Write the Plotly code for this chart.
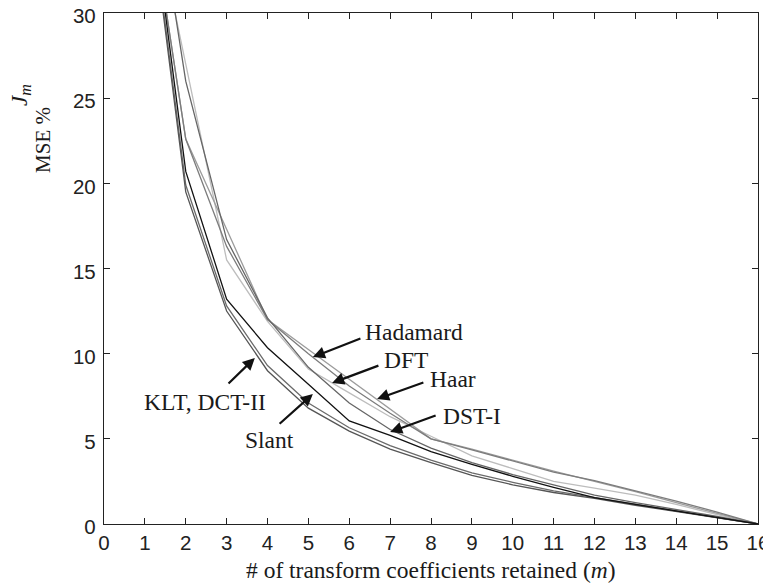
import plotly.graph_objs as go

# number of retained coefficients
m = list(range(1, 17))

# MSE % for each transform
klt = [38.5, 19.5, 12.5, 9.0, 6.8, 5.45, 4.4, 3.6, 2.85, 2.3, 1.85, 1.5, 1.1, 0.72, 0.36, 0.0]
dct2 = [38.7, 19.9, 12.8, 9.3, 7.1, 5.65, 4.6, 3.75, 3.0, 2.45, 1.95, 1.55, 1.15, 0.76, 0.38, 0.0]
slant = [39.3, 20.7, 13.2, 10.35, 8.2, 6.05, 5.2, 4.25, 3.5, 2.8, 2.15, 1.55, 1.15, 0.76, 0.38, 0.0]
dst1 = [41.4, 26.0, 16.7, 12.1, 9.2, 7.1, 5.55, 4.45, 3.6, 2.9, 2.3, 1.7, 1.25, 0.85, 0.45, 0.0]
dft = [38.5, 27.0, 15.5, 11.9, 9.1, 7.7, 6.3, 5.15, 4.0, 3.25, 2.5, 2.1, 1.7, 1.15, 0.55, 0.0]
hadamard = [38.3, 22.6, 16.3, 12.0, 10.0, 8.1, 6.5, 5.0, 4.35, 3.7, 3.05, 2.55, 1.95, 1.35, 0.7, 0.0]
haar = [38.3, 22.6, 17.3, 12.0, 10.25, 8.5, 6.75, 5.0, 4.4, 3.75, 3.1, 2.5, 1.9, 1.25, 0.62, 0.0]

series = [
    ("DFT", dft, "#bdbdbd", 1.3),
    ("Haar", haar, "#9c9c9c", 1.3),
    ("Hadamard", hadamard, "#7c7c7c", 1.3),
    ("DST-I", dst1, "#666666", 1.3),
    ("DCT-II", dct2, "#6a6a6a", 1.3),
    ("KLT", klt, "#555555", 1.3),
    ("Slant", slant, "#111111", 1.3),
]

# label text, text position, arrow tail, arrow tip (data coords)
labels = [
    ("Hadamard", (7.58, 11.27), (6.31, 10.92), (5.11, 9.80)),
    ("DFT", (7.39, 9.63), (6.75, 9.33), (5.58, 8.28)),
    ("Haar", (8.54, 8.51), (7.85, 8.34), (6.68, 7.34)),
    ("DST-I", (9.0, 6.34), (8.15, 6.40), (7.0, 5.40)),
    ("KLT, DCT-II", (2.47, 7.16), (3.01, 8.16), (3.69, 9.75)),
    ("Slant", (4.06, 4.93), (4.26, 5.81), (5.11, 7.63)),
]

serif = "Liberation Serif, Times New Roman, serif"
sans = "Liberation Sans, Arial, sans-serif"

fig = go.Figure()
for name, vals, col, w in series:
    fig.add_trace(go.Scatter(x=m, y=vals, mode="lines", name=name,
                             line=dict(color=col, width=w), showlegend=False))

ann = []
for txt, tpos, tail, tip in labels:
    ann.append(dict(x=tpos[0], y=tpos[1], xref="x", yref="y", text=txt, showarrow=False,
                    xanchor="center", yanchor="middle",
                    font=dict(family=serif, size=23.5, color="#1a1a1a")))
    ann.append(dict(x=tip[0], y=tip[1], ax=tail[0], ay=tail[1], xref="x", yref="y",
                    axref="x", ayref="y", text="", showarrow=True, arrowhead=2,
                    arrowsize=1.1, arrowwidth=2.2, arrowcolor="#111"))

# y axis title (two rotated lines)
ann.append(dict(x=-0.128, y=0.84, xref="paper", yref="paper", text="<i>J</i><sub><i>m</i></sub>",
                xanchor="center", yanchor="middle",
                textangle=-90, showarrow=False, font=dict(family=serif, size=23, color="#1a1a1a")))
ann.append(dict(x=-0.093, y=0.752, xref="paper", yref="paper", text="MSE %",
                xanchor="center", yanchor="middle",
                textangle=-90, showarrow=False, font=dict(family=serif, size=21, color="#1a1a1a")))
# x axis title
ann.append(dict(x=0.5, y=-0.09, xref="paper", yref="paper",
                text="# of transform coefficients retained (<i>m</i>)",
                xanchor="center", yanchor="middle", showarrow=False,
                font=dict(family=serif, size=23.5, color="#1a1a1a")))

# page body adds an 8px margin, so the figure is sized to fit inside it
fig.update_layout(
    width=763, height=580,
    margin=dict(l=96, r=13, t=5, b=64),
    plot_bgcolor="white", paper_bgcolor="white",
    annotations=ann,
)
fig.update_xaxes(range=[0, 16], dtick=1, tick0=0, showgrid=False, zeroline=False,
                 showline=True, linecolor="#222", linewidth=1.3, mirror="ticks",
                 ticks="inside", ticklen=6, tickcolor="#222", automargin=False,
                 ticklabeloverflow="allow",
                 tickfont=dict(family=sans, size=20.5, color="#222"))
fig.update_yaxes(range=[0, 30], dtick=5, tick0=0, showgrid=False, zeroline=False,
                 showline=True, linecolor="#222", linewidth=1.3, mirror="ticks",
                 ticks="inside", ticklen=6, tickcolor="#222", automargin=False,
                 ticklabelstandoff=3, ticklabelshift=3, ticklabeloverflow="allow",
                 tickfont=dict(family=sans, size=20.5, color="#222"))

fig.write_html("out.html")
